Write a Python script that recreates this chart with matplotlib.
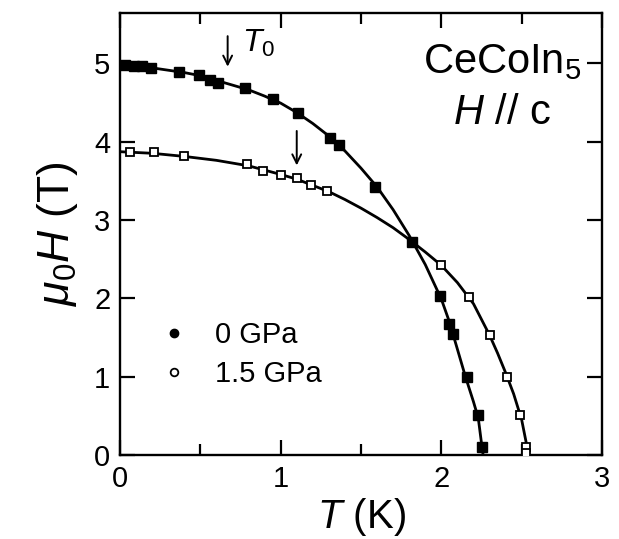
import matplotlib
matplotlib.use("Agg")
import matplotlib.pyplot as plt
from matplotlib.lines import Line2D

plt.rcParams["font.family"] = ["Liberation Sans", "DejaVu Sans"]
plt.rcParams["mathtext.fontset"] = "custom"
plt.rcParams["mathtext.rm"] = "Liberation Sans"
plt.rcParams["mathtext.it"] = "Liberation Sans:italic"

# 0 GPa, measured points
t_0gpa = [0.03, 0.09, 0.14, 0.19, 0.37, 0.49, 0.56, 0.61, 0.78, 0.95, 1.11,
          1.31, 1.36, 1.59, 1.82, 1.99, 2.05, 2.07, 2.16, 2.23, 2.25]
h_0gpa = [4.98, 4.97, 4.96, 4.94, 4.89, 4.85, 4.79, 4.75, 4.68, 4.54, 4.36,
          4.05, 3.96, 3.42, 2.72, 2.03, 1.67, 1.54, 1.00, 0.51, 0.10]

# 1.5 GPa, measured points
t_15gpa = [0.06, 0.21, 0.40, 0.79, 0.89, 1.00, 1.10, 1.19, 1.29,
           2.00, 2.17, 2.30, 2.41, 2.49, 2.53, 2.53]
h_15gpa = [3.87, 3.86, 3.82, 3.71, 3.63, 3.57, 3.54, 3.45, 3.37,
           2.43, 2.01, 1.53, 1.00, 0.51, 0.10, 0.03]

# guide-to-the-eye curves
fit_t_0gpa = [0.0, 0.1, 0.2, 0.3, 0.4, 0.5, 0.6, 0.7, 0.8, 0.9, 1.0, 1.1, 1.2,
              1.3, 1.4, 1.5, 1.6, 1.7, 1.8, 1.9, 2.0, 2.05, 2.1, 2.15, 2.2,
              2.23, 2.25, 2.26]
fit_h_0gpa = [4.97, 4.96, 4.94, 4.91, 4.88, 4.84, 4.78, 4.72, 4.66, 4.58, 4.49,
              4.37, 4.23, 4.07, 3.88, 3.66, 3.42, 3.13, 2.80, 2.43, 1.99, 1.70,
              1.35, 1.00, 0.68, 0.47, 0.15, 0.0]
fit_t_15gpa = [0.0, 0.2, 0.4, 0.6, 0.8, 1.0, 1.1, 1.2, 1.3, 1.4, 1.5, 1.6, 1.7,
               1.8, 1.9, 2.0, 2.1, 2.2, 2.3, 2.35, 2.4, 2.45, 2.5, 2.53, 2.545]
fit_h_15gpa = [3.87, 3.85, 3.81, 3.76, 3.69, 3.58, 3.52, 3.44, 3.36, 3.26, 3.15,
               3.03, 2.90, 2.75, 2.59, 2.42, 2.20, 1.93, 1.53, 1.30, 1.05, 0.78,
               0.45, 0.14, 0.0]

# T0 arrows: (T, arrow top, arrow tip)
t0_arrows = [(0.67, 5.38, 4.92), (1.10, 4.17, 3.66)]

fig = plt.figure(figsize=(6.19, 5.39), dpi=100, facecolor="white")
ax = fig.add_axes([120 / 619, 84 / 539, 482 / 619, 442 / 539])

ax.plot(fit_t_0gpa, fit_h_0gpa, "-", color="black", lw=2.0, zorder=2)
ax.plot(fit_t_15gpa, fit_h_15gpa, "-", color="black", lw=2.0, zorder=2)
ax.plot(t_0gpa, h_0gpa, "s", ms=6.5, mfc="black", mec="black", zorder=3)
ax.plot(t_15gpa, h_15gpa, "s", ms=5.5, mfc="white", mec="black", mew=1.3, zorder=3)

for t, top, tip in t0_arrows:
    ax.annotate("", xy=(t, tip), xytext=(t, top),
                arrowprops=dict(arrowstyle="->", color="black", lw=1.4,
                                mutation_scale=16))
ax.text(0.76, 5.14, r"$T_0$", fontsize=23, ha="left", va="baseline")

ax.text(0.958, 0.865, r"CeCoIn$_5$", transform=ax.transAxes, fontsize=30,
        ha="right", va="baseline")
ax.text(0.895, 0.749, r"$H$ // c", transform=ax.transAxes, fontsize=30,
        ha="right", va="baseline")

handles = [Line2D([], [], ls="none", marker="o", ms=6, mfc="black", mec="black"),
           Line2D([], [], ls="none", marker="o", ms=5.5, mfc="white", mec="black", mew=1.3)]
ax.legend(handles, ["0 GPa", "1.5 GPa"], loc="upper left",
          bbox_to_anchor=(0.07, 0.33), frameon=False, fontsize=21,
          handlelength=0.6, handletextpad=1.1, labelspacing=0.4,
          borderaxespad=0.0)

ax.set_xlim(0, 3)
ax.set_ylim(0, 5.64)
ax.set_xticks([0, 1, 2, 3])
ax.set_xticks([0.5, 1.5, 2.5], minor=True)
ax.set_yticks([0, 1, 2, 3, 4, 5])
ax.tick_params(which="both", direction="in", top=True, right=True,
               labelsize=21, width=1.6, pad=7)
ax.tick_params(which="major", length=11)
ax.tick_params(which="minor", length=8)
for sp in ax.spines.values():
    sp.set_linewidth(1.7)

ax.set_xlabel(r"$T$ (K)", fontsize=29, labelpad=2)
ax.set_ylabel(r"$\mu_0H$ (T)", fontsize=32, labelpad=10)

fig.savefig("out.png", dpi=100, facecolor="white")
